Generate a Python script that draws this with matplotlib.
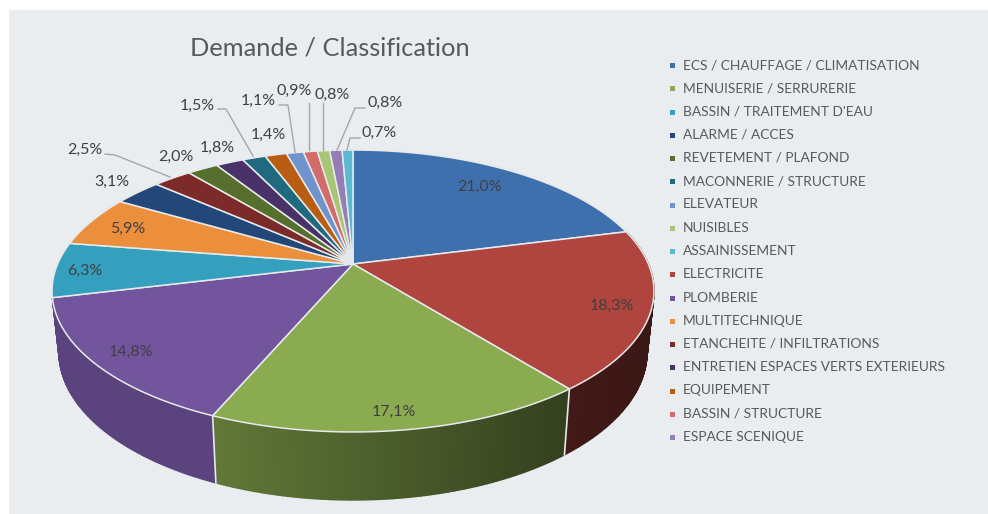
import numpy as np
import matplotlib
matplotlib.use('Agg')
import matplotlib.pyplot as plt
from matplotlib.colors import to_rgb

plt.rcParams['font.family'] = ['Lato', 'DejaVu Sans']

# slices, clockwise from 12 o'clock
categories = ['ECS / CHAUFFAGE / CLIMATISATION', 'ELECTRICITE', 'MENUISERIE / SERRURERIE', 'PLOMBERIE',
              "BASSIN / TRAITEMENT D'EAU", 'MULTITECHNIQUE', 'ALARME / ACCES', 'ETANCHEITE / INFILTRATIONS',
              'REVETEMENT / PLAFOND', 'ENTRETIEN ESPACES VERTS EXTERIEURS', 'MACONNERIE / STRUCTURE', 'EQUIPEMENT',
              'ELEVATEUR', 'BASSIN / STRUCTURE', 'NUISIBLES', 'ESPACE SCENIQUE', 'ASSAINISSEMENT']
values = [21.0, 18.3, 17.1, 14.8, 6.3, 5.9, 3.1, 2.5, 2.0, 1.8, 1.5, 1.4, 1.1, 0.9, 0.8, 0.8, 0.7]
colors = ['#3f70ae', '#b04540', '#8bab50', '#72559c', '#35a0bd', '#eb8f3c', '#24477a', '#7d2a2a',
          '#566f2c', '#4a3269', '#1f6a7f', '#b95d12', '#6f94cc', '#d26b6a', '#a8c573', '#957db6', '#5cb9d2']
# legend reads in another order than the slices
legend_order = [0, 2, 4, 6, 8, 10, 12, 14, 16, 1, 3, 5, 7, 9, 11, 13, 15]

# label centres and leader lines, in image pixels
label_pos = [(480, 187), (612, 306), (394, 412), (131, 352), (85, 271), (128, 229), (112, 182), (85, 150),
             (176, 157), (217, 148), (197, 106), (268, 135), (258, 101), (294, 91), (332, 95), (385, 103), (379, 133)]
leaders = [[(105, 154), (115, 155), (170, 177)],
           [(218, 109), (226, 109), (253, 156)],
           [(279, 105), (288, 105), (295, 152)],
           [(309, 103), (309, 150)],
           [(323, 103), (323, 150)],
           [(365, 108), (355, 108), (337, 150)],
           [(360, 138), (350, 138), (347, 150)]]

# perspective of the disc
cx, cy = 353, 264
A, B, k = 295.4, 135.8, 0.1915


def top_face(a):
    u, v = np.sin(a), -np.cos(a)
    d = 1 - k * v
    return cx + A * u / d, cy + B * v / d


def bottom_face(a):
    x, y = top_face(a)
    return cx + 0.977 * (x - cx), 1.05 * y + 46.4


def wall_shade(i, x):
    if i == 3:
        return 0.8
    if i == 1:
        return 0.38 - 0.05 * (x - 565) / 90
    return 0.7 - 0.32 * (x - 215) / 350


fig = plt.figure(figsize=(9.88, 5.14), dpi=100, facecolor='white')
ax = fig.add_axes([0, 0, 1, 1])
ax.set_xlim(0, 988)
ax.set_ylim(514, 0)
ax.axis('off')
ax.fill([9, 988, 988, 9], [10, 10, 514, 514], color='#e9edf0', lw=0, zorder=0)

edges = np.cumsum([0] + values) / 100 * 2 * np.pi

# side wall, only these slices reach the front
for i in range(1, 4):
    steps = np.arange(edges[i], edges[i + 1], 0.01).tolist() + [edges[i + 1]]
    for a0, a1 in zip(steps[:-1], steps[1:]):
        x0, y0 = top_face(a0)
        x1, y1 = top_face(a1)
        x2, y2 = bottom_face(a1)
        x3, y3 = bottom_face(a0)
        c = np.array(to_rgb(colors[i])) * wall_shade(i, x0)
        ax.fill([x0, x1, x2, x3], [y0, y1, y2, y3], color=c, lw=1, zorder=1)
    if i < 3:
        xa, ya = top_face(edges[i + 1])
        xb, yb = bottom_face(edges[i + 1])
        ax.plot([xa, xb], [ya, yb], color='#e6eaec', lw=1.2, zorder=2)

# top face
for i in range(len(values)):
    t = np.linspace(edges[i], edges[i + 1], 80)
    xs, ys = top_face(t)
    ax.fill(np.r_[cx, xs], np.r_[cy, ys], facecolor=colors[i], edgecolor='#e6eaec', lw=1.1, zorder=3)

for i, (x, y) in enumerate(label_pos):
    txt = f'{values[i]:.1f}%'.replace('.', ',')
    ax.text(x, y, txt, ha='center', va='center', fontsize=11.5, color='#404040', zorder=5)

for line in leaders:
    px, py = zip(*line)
    ax.plot(px, py, color='#a6a6a6', lw=1, zorder=4)

ax.text(190, 48, 'Demande / Classification', ha='left', va='center', fontsize=18.3, color='#595959', zorder=5)

for row, i in enumerate(legend_order):
    y = 65 + row * 23.25
    ax.plot(672, y, marker='s', ms=3.6, color=colors[i], mew=0, zorder=5)
    ax.text(683, y, categories[i], ha='left', va='center', fontsize=9.9, color='#595959', zorder=5)

fig.savefig('out.png', dpi=100)
